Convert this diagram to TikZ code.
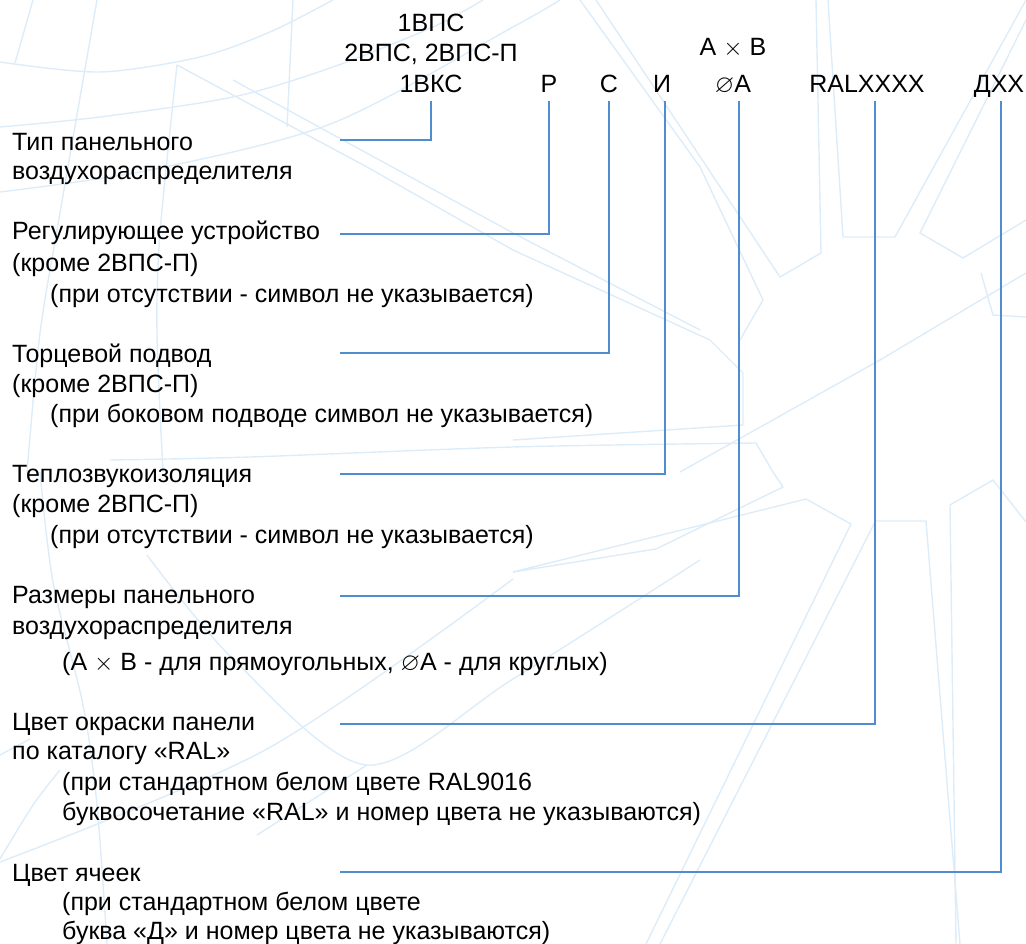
\documentclass[tikz,border=0pt]{standalone}
\usepackage{fontspec}
\usepackage{amssymb}
\setmainfont{Liberation Sans}
\definecolor{lineblue}{RGB}{80,141,207}
\definecolor{wmblue}{RGB}{221,236,249}
\newcommand{\tx}{\ensuremath{\times}}
\newcommand{\dm}{\ensuremath{\varnothing}}
\tikzset{
  lbl/.style={anchor=base west, inner sep=0pt},
  code/.style={anchor=base, inner sep=0pt},
  conn/.style={draw=lineblue, line width=1.6pt},
  wm/.style={draw=wmblue, line width=1.4pt, line join=round}
}
\begin{document}
\begin{tikzpicture}[x=1pt,y=-1pt,font={\fontsize{25}{30}\selectfont}]
\useasboundingbox (0,0) rectangle (1026,944);
\begin{scope}
\clip (0,0) rectangle (1026,944);
% watermark
\draw[wm] plot[smooth] coordinates {(0,62) (100,72) (200,57) (270,32) (333,0)};
\draw[wm] plot[smooth] coordinates {(0,127) (100,117) (233,97) (333,67) (433,27) (483,0)};
\draw[wm] plot[smooth] coordinates {(0,192) (150,170) (333,123) (513,27) (560,0)};
\draw[wm] (33,0) -- (15,63);
\draw[wm] plot[smooth] coordinates {(97,0) (60,213) (40,333) (27,472)};
\draw[wm] plot[smooth] coordinates {(40,472) (53,582) (83,705) (97,805) (107,944)};
\draw[wm] plot[smooth] coordinates {(177,65) (160,233) (157,333) (163,472)};
\draw[wm] (177,65) -- (367,167) -- (513,250) -- (710,340);
\draw[wm] (233,80) -- (513,233) -- (700,330);
\draw[wm] (293,0) -- (287,127);
\draw[wm] plot[smooth] coordinates {(110,460) (250,457) (513,447) (756,443)} -- (773,472) -- (783,487) -- (656,549) -- (513,572);
\draw[wm] (513,440) -- (743,425) -- (743,373) -- (710,340);
\draw[wm] (580,0) -- (700,167) -- (763,300) -- (740,340);
\draw[wm] (596,0) -- (780,277) -- (821,253) -- (816,0);
\draw[wm] (828,0) -- (843,237) -- (895,237) -- (1026,0);
\draw[wm] (1026,20) -- (920,233) -- (963,258) -- (1026,220);
\draw[wm] (981,273) -- (993,315) -- (1026,317);
\draw[wm] (680,472) -- (880,360) -- (1026,273);
\draw[wm] plot[smooth] coordinates {(0,862) (267,749) (513,579)};
\draw[wm] (513,572) -- (806,499) -- (851,524) -- (646,944);
\draw[wm] (875,522) -- (660,944);
\draw[wm] (876,521) -- (926,521) -- (960,944);
\draw[wm] (1026,522) -- (993,480) -- (950,505) -- (956,944);
\draw[wm] plot[smooth] coordinates {(147,555) (233,659) (367,765) (513,679) (700,560)};
\draw[wm] plot[smooth] coordinates {(257,835) (367,765)};
\draw[wm] plot[smooth] coordinates {(0,755) (30,739)};
\draw[wm] plot[smooth] coordinates {(0,859) (33,805) (60,770)};
\end{scope}

% codes
\node[code] (t1) at (431,32) {1ВПС};
\node[code] (t2) at (431,62) {2ВПС, 2ВПС-П};
\node[code] (t3) at (431,93) {1ВКС};
\node[code] (cP) at (549,93) {Р};
\node[code] (cC) at (609,93) {С};
\node[code] (cI) at (662,93) {И};
\node[code] (cAB) at (733,56) {A \tx\ B};
\node[code] (cD) at (733,93) {\dm A};
\node[code] (cRAL) at (867,93) {RALXXXX};
\node[code] (cDX) at (999,93) {ДХХ};

% labels
\node[lbl] (l1a) at (12,151) {Тип панельного};
\node[lbl] (l1b) at (12,180) {воздухораспределителя};
\node[lbl] (l2a) at (12,240) {Регулирующее устройство};
\node[lbl] (l2b) at (12,272) {(кроме 2ВПС-П)};
\node[lbl] (l2c) at (50,302) {(при отсутствии - символ не указывается)};
\node[lbl] (l3a) at (12,362) {Торцевой подвод};
\node[lbl] (l3b) at (12,392) {(кроме 2ВПС-П)};
\node[lbl] (l3c) at (50,422) {(при боковом подводе символ не указывается)};
\node[lbl] (l4a) at (12,482) {Теплозвукоизоляция};
\node[lbl] (l4b) at (12,512) {(кроме 2ВПС-П)};
\node[lbl] (l4c) at (50,543) {(при отсутствии - символ не указывается)};
\node[lbl] (l5a) at (12,603) {Размеры панельного};
\node[lbl] (l5b) at (12,634) {воздухораспределителя};
\node[lbl] (l5c) at (62,670) {(A \tx\ B - для прямоугольных, \dm A - для круглых)};
\node[lbl] (l6a) at (12,730) {Цвет окраски панели};
\node[lbl] (l6b) at (12,759) {по каталогу «RAL»};
\node[lbl] (l6c) at (62,790) {(при стандартном белом цвете RAL9016};
\node[lbl] (l6d) at (62,820) {буквосочетание «RAL» и номер цвета не указываются)};
\node[lbl] (l7a) at (12,881) {Цвет ячеек};
\node[lbl] (l7b) at (62,910) {(при стандартном белом цвете};
\node[lbl] (l7c) at (62,939) {буква «Д» и номер цвета не указываются)};

% connector ends
\coordinate (top) at (0,101);
\coordinate (vI) at (665,101);
\coordinate (vD) at (739,101);
\coordinate (vR) at (875,101);
\coordinate (vX) at (1001,101);
\coordinate (e1) at (340,140);
\coordinate (e2) at (340,234);
\coordinate (e3) at (340,353);
\coordinate (e4) at (340,474);
\coordinate (e5) at (340,596);
\coordinate (e6) at (340,724);
\coordinate (e7) at (340,872);

\draw[conn] (t3 |- top) |- (e1);
\draw[conn] (cP |- top) |- (e2);
\draw[conn] (cC |- top) |- (e3);
\draw[conn] (vI) |- (e4);
\draw[conn] (vD) |- (e5);
\draw[conn] (vR) |- (e6);
\draw[conn] (vX) |- (e7);
\end{tikzpicture}
\end{document}
